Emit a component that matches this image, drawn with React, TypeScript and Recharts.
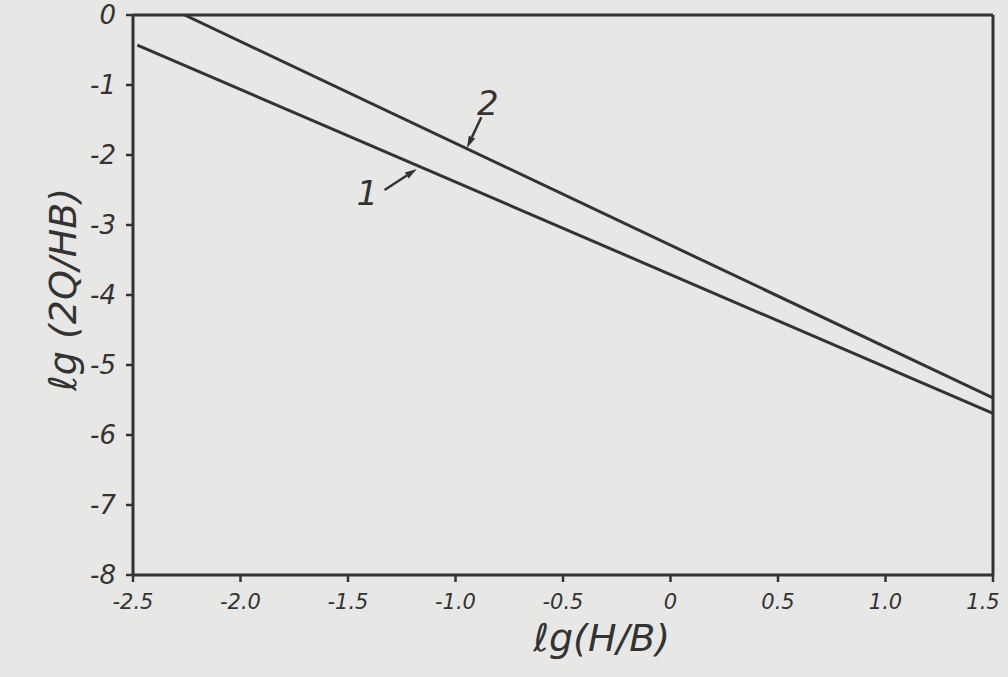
import React from 'react';
import { LineChart, Line, XAxis, YAxis, ReferenceLine, ReferenceDot, Label } from 'recharts';

const xTicks = [-2.5, -2.0, -1.5, -1.0, -0.5, 0, 0.5, 1.0, 1.5];
const xTickLabels = ['-2.5', '-2.0', '-1.5', '-1.0', '-0.5', '0', '0.5', '1.0', '1.5'];
const yTicks = [0, -1, -2, -3, -4, -5, -6, -7, -8];
const yTickLabels = ['0', '-1', '-2', '-3', '-4', '-5', '-6', '-7', '-8'];

const line1 = [
  { x: -2.48, y: -0.43 },
  { x: 1.5, y: -5.69 },
];
const line2 = [
  { x: -2.26, y: 0 },
  { x: 1.5, y: -5.47 },
];

const label1Pos = { x: -1.41, y: -2.54, text: '1' };
const label2Pos = { x: -0.85, y: -1.26, text: '2' };
const arrow1 = [{ x: -1.33, y: -2.5 }, { x: -1.18, y: -2.2 }];
const arrow2 = [{ x: -0.88, y: -1.46 }, { x: -0.947, y: -1.9 }];

const INK = '#333333';
const FONT = '"DejaVu Sans", "Liberation Sans", sans-serif';

const arrowShape = (p: any) => {
  const { x1, y1, x2, y2 } = p;
  const dx = x2 - x1, dy = y2 - y1;
  const len = Math.sqrt(dx * dx + dy * dy) || 1;
  const ux = dx / len, uy = dy / len;
  const hl = 12, hw = 3.5;
  const bx = x2 - ux * hl, by = y2 - uy * hl;
  const pts = `${x2},${y2} ${bx - uy * hw},${by + ux * hw} ${bx + uy * hw},${by - ux * hw}`;
  return (
    <g>
      <line x1={x1} y1={y1} x2={bx} y2={by} stroke={INK} strokeWidth={2.5} />
      <polygon points={pts} fill={INK} />
    </g>
  );
};

const textShape = (t: string) => (p: any) => (
  <text x={p.cx} y={p.cy} textAnchor="middle" dominantBaseline="central" fontSize={34}
    fontStyle="italic" fontFamily={FONT} fill={INK}>{t}</text>
);

const XTick = (props: any) => {
  const { x, y, payload, index } = props;
  const v = payload?.value;
  const i = xTicks.indexOf(v);
  const label = i >= 0 ? xTickLabels[i] : String(v);
  const shift = i === xTicks.length - 1 ? -10 : 0;
  return (
    <text x={x + shift} y={y} dy={14} textAnchor="middle" dominantBaseline="central" fontSize={21}
      fontStyle="italic" fontFamily={FONT} fill={INK}>{label}</text>
  );
};

const XTitle = (props: any) => {
  const vb = props.viewBox || { x: 0, y: 0, width: 0, height: 0 };
  return (
    <text x={vb.x + vb.width * 0.545} y={vb.y + 76} textAnchor="middle" fontSize={38}
      fontStyle="italic" fontFamily={FONT} fill={INK}>ℓg(H/B)</text>
  );
};

const YTitle = (props: any) => {
  const vb = props.viewBox || { x: 0, y: 0, width: 0, height: 0 };
  const cx = vb.x + 10;
  const cy = vb.y + vb.height * 0.49;
  return (
    <text x={cx} y={cy} textAnchor="middle" dominantBaseline="central" fontSize={38}
      fontStyle="italic" fontFamily={FONT} fill={INK} transform={`rotate(-90, ${cx}, ${cy})`}>ℓg (2Q/HB)</text>
  );
};

export default function App() {
  return (
    <div style={{ position: 'absolute', left: 0, top: 0, width: 1008, height: 677, background: '#e7e7e5' }}>
      <LineChart width={1008} height={677} margin={{ top: 15, right: 15, bottom: 52, left: 53 }}>
        <XAxis type="number" dataKey="x" domain={[-2.5, 1.5]} ticks={xTicks} allowDataOverflow
          height={50} tickSize={7} tickMargin={6} interval={0}
          axisLine={{ stroke: INK, strokeWidth: 3 }} tickLine={{ stroke: INK, strokeWidth: 2.5 }}
          tick={<XTick />}>
          <Label content={<XTitle />} />
        </XAxis>
        <YAxis type="number" dataKey="y" domain={[-8, 0]} ticks={yTicks} allowDataOverflow
          width={80} tickSize={7} tickMargin={10} interval={0}
          tickFormatter={(v: number) => yTickLabels[yTicks.indexOf(v)] ?? String(v)}
          axisLine={{ stroke: INK, strokeWidth: 3 }} tickLine={{ stroke: INK, strokeWidth: 2.5 }}
          tick={{ fill: INK, fontSize: 26, fontStyle: 'italic', fontFamily: FONT }}>
          <Label content={<YTitle />} />
        </YAxis>
        <ReferenceLine y={0} stroke={INK} strokeWidth={3} />
        <ReferenceLine x={1.5} stroke={INK} strokeWidth={3} />
        <Line data={line1} dataKey="y" type="linear" stroke={INK} strokeWidth={3} dot={false}
          isAnimationActive={false} />
        <Line data={line2} dataKey="y" type="linear" stroke={INK} strokeWidth={3} dot={false}
          isAnimationActive={false} />
        <ReferenceLine segment={arrow1} shape={arrowShape} />
        <ReferenceLine segment={arrow2} shape={arrowShape} />
        <ReferenceDot x={label1Pos.x} y={label1Pos.y} r={0} shape={textShape(label1Pos.text)} />
        <ReferenceDot x={label2Pos.x} y={label2Pos.y} r={0} shape={textShape(label2Pos.text)} />
      </LineChart>
    </div>
  );
}
